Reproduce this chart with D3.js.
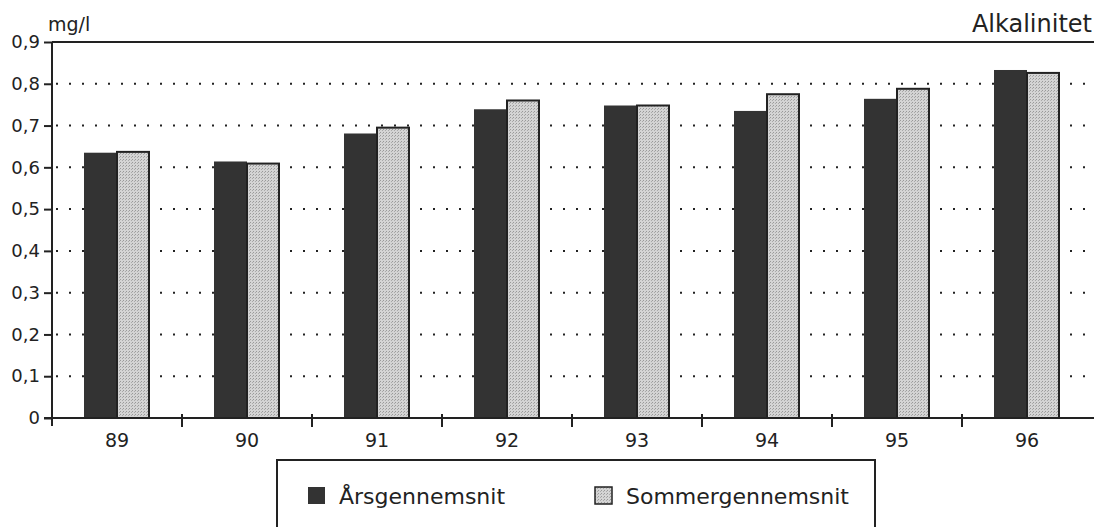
<!DOCTYPE html>
<html>
<head>
<meta charset="utf-8">
<script src="https://cdn.jsdelivr.net/npm/d3@7"></script>
<style>
  body { margin: 0; background: #fff; }
  svg text { font-family: "DejaVu Sans", sans-serif; fill: #222; }
</style>
</head>
<body>
<svg id="chart" width="1094" height="527"></svg>
<script>
// data
const years = ["89", "90", "91", "92", "93", "94", "95", "96"];
const aarsValues = [0.635, 0.614, 0.681, 0.739, 0.748, 0.735, 0.764, 0.833];
const sommerValues = [0.637, 0.609, 0.695, 0.760, 0.748, 0.775, 0.788, 0.826];
const yTicks = [0, 0.1, 0.2, 0.3, 0.4, 0.5, 0.6, 0.7, 0.8, 0.9];
const seriesNames = ["Årsgennemsnit", "Sommergennemsnit"];

const margin = { top: 42, left: 52, bottom: 418, right: 1092 };
const svg = d3.select("#chart");

// stipple pattern for the light bars
const defs = svg.append("defs");
const pat = defs.append("pattern")
    .attr("id", "stipple")
    .attr("width", 3).attr("height", 3)
    .attr("patternUnits", "userSpaceOnUse");
pat.append("rect").attr("width", 3).attr("height", 3).attr("fill", "#d4d4d4");
pat.append("rect").attr("x", 0).attr("y", 0).attr("width", 1).attr("height", 1).attr("fill", "#999");
pat.append("rect").attr("x", 2).attr("y", 1).attr("width", 1).attr("height", 1).attr("fill", "#aaa");

const x = d3.scaleBand()
    .domain(years)
    .range([margin.left, margin.right]);

const y = d3.scaleLinear()
    .domain([0, 0.9])
    .range([margin.bottom, margin.top]);

const inner = d3.scaleBand()
    .domain([0, 1])
    .range([0, 66]);

const fmt = d => d === 0 ? "0" : d3.format(".1f")(d).replace(".", ",");

// dotted gridlines
svg.append("g")
    .selectAll("line")
    .data(yTicks.filter(d => d > 0 && d < 0.9))
    .join("line")
    .attr("x1", margin.left + 4)
    .attr("x2", 1094)
    .attr("y1", d => y(d))
    .attr("y2", d => y(d))
    .attr("stroke", "#222")
    .attr("stroke-width", 2)
    .attr("stroke-dasharray", "2,11");

// bars
const groups = svg.append("g")
    .selectAll("g")
    .data(years)
    .join("g")
    .attr("transform", d => `translate(${x(d) + x.bandwidth() / 2 - 33},0)`);

groups.append("rect")
    .attr("x", inner(0))
    .attr("width", inner.bandwidth())
    .attr("y", (d, i) => y(aarsValues[i]))
    .attr("height", (d, i) => y(0) - y(aarsValues[i]))
    .attr("fill", "#333");

groups.append("rect")
    .attr("x", inner(1))
    .attr("width", inner.bandwidth() - 1)
    .attr("y", (d, i) => y(sommerValues[i]))
    .attr("height", (d, i) => y(0) - y(sommerValues[i]))
    .attr("fill", "url(#stipple)")
    .attr("stroke", "#222")
    .attr("stroke-width", 2);

// axes
const yAxis = d3.axisLeft(y)
    .tickValues(yTicks)
    .tickSize(8)
    .tickPadding(4)
    .tickFormat(fmt);

const yAxisGroup = svg.append("g")
    .attr("transform", `translate(${margin.left},0)`)
    .call(yAxis);
yAxisGroup.select(".domain").remove();
yAxisGroup.selectAll("line").attr("stroke", "#222").attr("stroke-width", 2);
yAxisGroup.selectAll("text")
    .attr("font-size", 18)
    .attr("font-family", "DejaVu Sans, sans-serif")
    .attr("fill", "#222");

svg.append("line")
    .attr("x1", margin.left).attr("x2", margin.left)
    .attr("y1", y(0.9)).attr("y2", y(0) + 8)
    .attr("stroke", "#222").attr("stroke-width", 2);

svg.append("line")
    .attr("x1", margin.left).attr("x2", 1094)
    .attr("y1", y(0.9)).attr("y2", y(0.9))
    .attr("stroke", "#222").attr("stroke-width", 2);

svg.append("line")
    .attr("x1", margin.left - 8).attr("x2", 1094)
    .attr("y1", y(0)).attr("y2", y(0))
    .attr("stroke", "#222").attr("stroke-width", 2);

// category separators below baseline
svg.append("g")
    .selectAll("line")
    .data(years.slice(1))
    .join("line")
    .attr("x1", d => x(d)).attr("x2", d => x(d))
    .attr("y1", y(0) - 4).attr("y2", y(0) + 9)
    .attr("stroke", "#222").attr("stroke-width", 2);

svg.append("g")
    .selectAll("text")
    .data(years)
    .join("text")
    .attr("x", d => x(d) + x.bandwidth() / 2)
    .attr("y", 447)
    .attr("text-anchor", "middle")
    .attr("font-size", 19)
    .text(d => d);

// titles
svg.append("text")
    .attr("x", 48).attr("y", 31)
    .attr("font-size", 19)
    .text("mg/l");

svg.append("text")
    .attr("x", 1092).attr("y", 32)
    .attr("text-anchor", "end")
    .attr("font-size", 24)
    .text("Alkalinitet");

// legend
const legend = svg.append("g");
legend.append("rect")
    .attr("x", 277).attr("y", 460)
    .attr("width", 598).attr("height", 80)
    .attr("fill", "#fff")
    .attr("stroke", "#222").attr("stroke-width", 2);

const legendX = [308, 595];
const items = legend.selectAll("g.item")
    .data(seriesNames)
    .join("g")
    .attr("class", "item")
    .attr("transform", (d, i) => `translate(${legendX[i]},487)`);

items.append("rect")
    .attr("width", 17).attr("height", 17)
    .attr("fill", (d, i) => i === 0 ? "#333" : "url(#stipple)")
    .attr("stroke", (d, i) => i === 0 ? "none" : "#222")
    .attr("stroke-width", 1.5);

items.append("text")
    .attr("x", 31).attr("y", 17)
    .attr("font-size", 22)
    .text(d => d);
</script>
</body>
</html>
